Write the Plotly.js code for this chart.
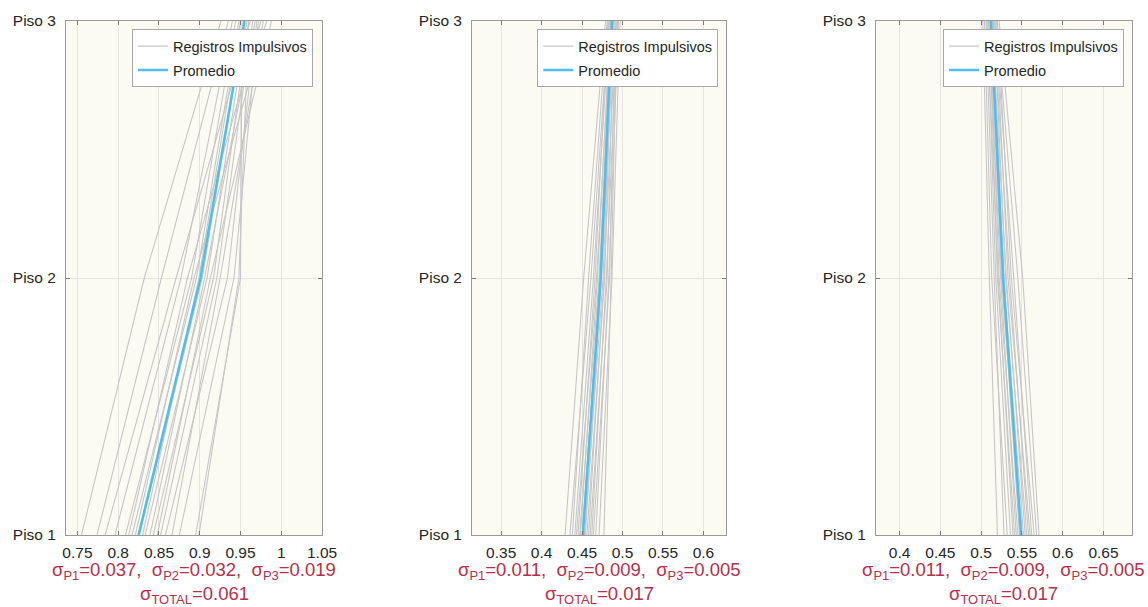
<!DOCTYPE html>
<html>
<head>
<meta charset="utf-8">
<script src="https://cdn.plot.ly/plotly-3.0.1.min.js"></script>
<style>html,body{margin:0;padding:0;background:#fff;}#chart{width:1148px;height:607px;}</style>
</head>
<body>
<div id="chart"></div>
<script>
// ---- data ----
const floors = [1, 2, 3];
const floorLabels = ['Piso 1', 'Piso 2', 'Piso 3'];

// Panel A (left)
const recA_P1 = [0.755, 0.774, 0.784, 0.796, 0.809, 0.813, 0.817, 0.821, 0.826, 0.830, 0.833, 0.839, 0.843, 0.848, 0.852, 0.858, 0.866, 0.875, 0.895, 0.899];
const recA_P2 = [0.832, 0.853, 0.871, 0.877, 0.890, 0.885, 0.896, 0.893, 0.903, 0.899, 0.909, 0.906, 0.917, 0.913, 0.921, 0.934, 0.925, 0.942, 0.950, 0.948];
const recA_P3 = [0.926, 0.935, 0.962, 0.940, 0.944, 0.975, 0.948, 0.982, 0.955, 0.950, 0.958, 0.968, 0.960, 0.988, 0.965, 0.970, 0.978, 0.972, 0.952, 0.960];
const meanA = [0.825, 0.901, 0.955];
const ticksA = [0.75, 0.8, 0.85, 0.9, 0.95, 1, 1.05];
const tickTextA = ['0.75', '0.8', '0.85', '0.9', '0.95', '1', '1.05'];
const rangeA = [0.736, 1.05];
const sigmaA = ['0.037', '0.032', '0.019', '0.061'];

// Panel B (middle)
const recB_P1 = [0.429, 0.435, 0.438, 0.441, 0.443, 0.445, 0.447, 0.448, 0.450, 0.451, 0.453, 0.454, 0.456, 0.458, 0.460, 0.462, 0.464, 0.467, 0.471, 0.477];
const recB_P2 = [0.452, 0.461, 0.458, 0.464, 0.468, 0.466, 0.471, 0.469, 0.473, 0.472, 0.476, 0.474, 0.478, 0.477, 0.481, 0.480, 0.484, 0.483, 0.487, 0.486];
const recB_P3 = [0.479, 0.483, 0.481, 0.484, 0.486, 0.482, 0.487, 0.485, 0.489, 0.486, 0.488, 0.490, 0.487, 0.492, 0.489, 0.494, 0.491, 0.495, 0.497, 0.493];
const meanB = [0.451, 0.473, 0.487];
const ticksB = [0.35, 0.4, 0.45, 0.5, 0.55, 0.6];
const tickTextB = ['0.35', '0.4', '0.45', '0.5', '0.55', '0.6'];
const rangeB = [0.314, 0.628];
const sigmaB = ['0.011', '0.009', '0.005', '0.017'];

// Panel C (right)
const recC_P1 = [0.520, 0.528, 0.532, 0.536, 0.539, 0.541, 0.543, 0.545, 0.547, 0.549, 0.550, 0.552, 0.554, 0.556, 0.558, 0.560, 0.562, 0.565, 0.568, 0.571];
const recC_P2 = [0.510, 0.516, 0.513, 0.518, 0.521, 0.520, 0.524, 0.522, 0.526, 0.525, 0.528, 0.527, 0.531, 0.530, 0.535, 0.533, 0.540, 0.537, 0.545, 0.551];
const recC_P3 = [0.502, 0.506, 0.504, 0.508, 0.507, 0.510, 0.509, 0.511, 0.512, 0.511, 0.513, 0.514, 0.513, 0.516, 0.515, 0.518, 0.517, 0.520, 0.519, 0.522];
const meanC = [0.549, 0.527, 0.512];
const ticksC = [0.4, 0.45, 0.5, 0.55, 0.6, 0.65];
const tickTextC = ['0.4', '0.45', '0.5', '0.55', '0.6', '0.65'];
const rangeC = [0.371, 0.685];
const sigmaC = ['0.011', '0.009', '0.005', '0.017'];

// ---- build ----
const GRAY = '#c6c6c6';
const BLUE = '#4dbeee';
const TXT = '#262626';
const RED = '#b5304a';
const FONT = 'Liberation Sans, Arial, sans-serif';

const panels = [
  {p1: recA_P1, p2: recA_P2, p3: recA_P3, mean: meanA, ticks: ticksA, tt: tickTextA, range: rangeA, sig: sigmaA, dom: [0, 0.2402], xa: 'x', ya: 'y', leg: 'legend', lx: 0.2317},
  {p1: recB_P1, p2: recB_P2, p3: recB_P3, mean: meanB, ticks: ticksB, tt: tickTextB, range: rangeB, sig: sigmaB, dom: [0.3809, 0.6192], xa: 'x2', ya: 'y2', leg: 'legend2', lx: 0.6119},
  {p1: recC_P1, p2: recC_P2, p3: recC_P3, mean: meanC, ticks: ticksC, tt: tickTextC, range: rangeC, sig: sigmaC, dom: [0.7598, 1.0], xa: 'x3', ya: 'y3', leg: 'legend3', lx: 0.9925}
];

const traces = [];
const layout = {
  width: 1148, height: 607,
  margin: {l: 66, r: 16, t: 21, b: 72},
  paper_bgcolor: '#ffffff',
  plot_bgcolor: '#fcfbf3',
  font: {family: FONT, size: 15, color: TXT},
  annotations: [],
  showlegend: true
};

panels.forEach((p, i) => {
  for (let k = 0; k < p.p1.length; k++) {
    traces.push({
      type: 'scatter', mode: 'lines',
      x: [p.p1[k], p.p2[k], p.p3[k]], y: floors,
      xaxis: p.xa, yaxis: p.ya,
      line: {color: GRAY, width: 1.1},
      name: 'Registros Impulsivos',
      legend: p.leg, legendgroup: 'g' + i,
      showlegend: k === 0, hoverinfo: 'skip'
    });
  }
  traces.push({
    type: 'scatter', mode: 'lines',
    x: p.mean, y: floors,
    xaxis: p.xa, yaxis: p.ya,
    line: {color: BLUE, width: 2.5},
    name: 'Promedio',
    legend: p.leg, legendgroup: 'm' + i,
    showlegend: true
  });

  const sfx = i === 0 ? '' : String(i + 1);
  layout['xaxis' + sfx] = {
    domain: p.dom, range: p.range, anchor: p.ya,
    tickmode: 'array', tickvals: p.ticks, ticktext: p.tt,
    showgrid: true, gridcolor: '#e4e4e0', gridwidth: 1,
    zeroline: false, showline: true, linecolor: '#9a9a9a', linewidth: 1, mirror: 'ticks',
    ticks: 'inside', ticklen: 4, tickcolor: '#7a7a7a',
    ticklabelstandoff: 3,
    tickfont: {size: 15.5, color: TXT, family: FONT}
  };
  layout['yaxis' + sfx] = {
    domain: [0, 1], range: [1, 3], anchor: p.xa,
    tickmode: 'array', tickvals: floors, ticktext: floorLabels,
    showgrid: true, gridcolor: '#e4e4e0', gridwidth: 1,
    zeroline: false, showline: true, linecolor: '#9a9a9a', linewidth: 1, mirror: 'ticks',
    ticks: 'inside', ticklen: 4, tickcolor: '#7a7a7a',
    ticklabelstandoff: 6,
    tickfont: {size: 15.5, color: TXT, family: FONT}
  };
  layout[p.leg] = {
    x: p.lx, xanchor: 'right', y: 0.984, yanchor: 'top',
    bgcolor: '#ffffff', bordercolor: '#a8a8a8', borderwidth: 1,
    font: {size: 14.5, color: TXT, family: FONT},
    tracegroupgap: 2, itemwidth: 30
  };
  const cx = (p.dom[0] + p.dom[1]) / 2;
  layout.annotations.push({
    xref: 'paper', yref: 'paper', x: cx, y: -0.071, xanchor: 'center', yanchor: 'middle',
    showarrow: false, font: {size: 18.5, color: RED, family: FONT},
    text: 'σ<sub>P1</sub>=' + p.sig[0] + ',  σ<sub>P2</sub>=' + p.sig[1] + ',  σ<sub>P3</sub>=' + p.sig[2]
  });
  layout.annotations.push({
    xref: 'paper', yref: 'paper', x: cx, y: -0.117, xanchor: 'center', yanchor: 'middle',
    showarrow: false, font: {size: 18.5, color: RED, family: FONT},
    text: 'σ<sub>TOTAL</sub>=' + p.sig[3]
  });
});

Plotly.newPlot('chart', traces, layout, {displayModeBar: false, staticPlot: true});
</script>
</body>
</html>
